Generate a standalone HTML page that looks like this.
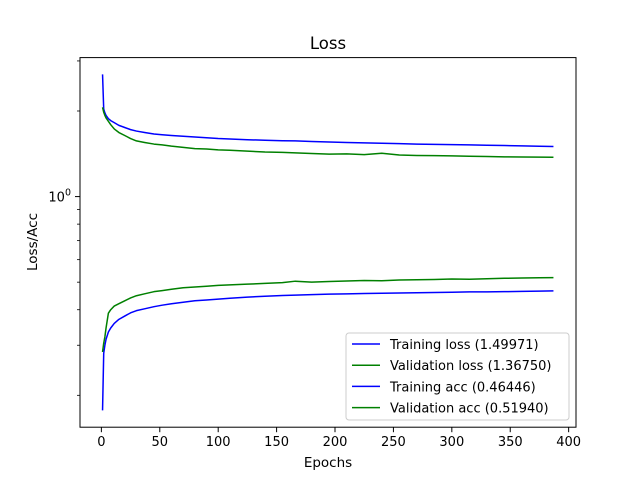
<!DOCTYPE html>
<html><head><meta charset="utf-8"><style>
body{margin:0;background:#fff}
svg{display:block;font-family:"DejaVu Sans","Liberation Sans",sans-serif}
</style></head><body>
<svg id="chart" width="640" height="480" viewBox="0 0 640 480">
<rect width="640" height="480" fill="#fff"/>
<text x="328" y="49" font-size="16.5" text-anchor="middle">Loss</text>
<g id="plot"></g>
<rect x="80" y="57.6" width="496" height="369.6" fill="none" stroke="#000" stroke-width="1"/>
<text x="328" y="467" font-size="13.5" text-anchor="middle">Epochs</text>
<text transform="translate(37,242) rotate(-90)" font-size="13.5" text-anchor="middle">Loss/Acc</text>
<g id="legend">
<rect x="346" y="333" width="223" height="87" rx="3" fill="#fff" fill-opacity="0.8" stroke="#ccc"/>
</g>
</svg>
<script>
const epochs=[1,2,3,4,6,8,11,15,20,25,30,37,45,52,60,70,80,90,100,110,125,140,155,166,180,195,210,225,240,255,270,285,300,315,330,345,360,375,387];
const trainLoss=[2.69,2.03,1.97,1.93,1.88,1.85,1.82,1.78,1.75,1.72,1.70,1.68,1.66,1.65,1.64,1.63,1.62,1.61,1.60,1.595,1.585,1.578,1.572,1.57,1.562,1.556,1.55,1.545,1.54,1.535,1.53,1.527,1.523,1.52,1.515,1.512,1.508,1.504,1.50];
const valLoss=[2.06,1.98,1.93,1.89,1.84,1.79,1.73,1.68,1.64,1.60,1.57,1.55,1.53,1.52,1.505,1.49,1.475,1.47,1.46,1.455,1.445,1.435,1.43,1.425,1.418,1.41,1.413,1.405,1.42,1.40,1.395,1.393,1.39,1.387,1.383,1.38,1.378,1.376,1.375];
const trainAcc=[0.177,0.281,0.300,0.315,0.334,0.345,0.358,0.370,0.380,0.390,0.397,0.403,0.410,0.415,0.420,0.425,0.430,0.433,0.436,0.439,0.443,0.446,0.449,0.450,0.452,0.454,0.455,0.456,0.457,0.458,0.459,0.460,0.461,0.462,0.462,0.463,0.464,0.465,0.466];
const valAcc=[0.284,0.305,0.321,0.345,0.389,0.400,0.412,0.420,0.430,0.440,0.448,0.455,0.463,0.467,0.472,0.478,0.481,0.484,0.487,0.489,0.492,0.495,0.498,0.504,0.500,0.503,0.505,0.507,0.506,0.509,0.510,0.511,0.513,0.512,0.514,0.516,0.517,0.518,0.519];
const xTicks=[0,50,100,150,200,250,300,350,400];
const yMinorTicks=[0.2,0.3,0.4,0.5,0.6,0.7,0.8,0.9,2,3];
const legendLabels=["Training loss (1.49971)","Validation loss (1.36750)","Training acc (0.46446)","Validation acc (0.51940)"];
const legendColors=["#0000ff","#008000","#0000ff","#008000"];

const NS="http://www.w3.org/2000/svg";
const svg=document.getElementById('chart');
const plot=document.getElementById('plot');
const legend=document.getElementById('legend');
const L=80,R=576,T=57.6,B=427.2;
const allX=epochs, xmin0=Math.min(...allX), xmax0=Math.max(...allX);
const xm=(xmax0-xmin0)*0.05, xlo=xmin0-xm, xhi=xmax0+xm;
const allY=[...trainLoss,...valLoss,...trainAcc,...valAcc].map(Math.log10);
const ymin0=Math.min(...allY), ymax0=Math.max(...allY);
const ym=(ymax0-ymin0)*0.05, ylo=ymin0-ym, yhi=ymax0+ym;
function xs(v){return L+(v-xlo)/(xhi-xlo)*(R-L);}
function ys(v){return B-(Math.log10(v)-ylo)/(yhi-ylo)*(B-T);}
function mk(tag,attrs,parent){const e=document.createElementNS(NS,tag);for(const k in attrs)e.setAttribute(k,attrs[k]);(parent||svg).appendChild(e);return e;}

xTicks.forEach(t=>{
  const x=xs(t);
  const tk=mk('line',{x1:x,x2:x,y1:B,y2:B+5,stroke:'#000'});
  
  
  const lb=mk('text',{x:x,y:B+19,'font-size':13,'text-anchor':'middle'});
  lb.textContent=t;
  
  
});
yMinorTicks.forEach(t=>{
  const y=ys(t); if(y<T||y>B)return;
  const tk=mk('line',{x1:L-3,x2:L,y1:y,y2:y,stroke:'#000','stroke-width':0.8});
  
  
});
{
  const y=ys(1);
  const tk=mk('line',{x1:L-5,x2:L,y1:y,y2:y,stroke:'#000'});
  
  
  const lb=mk('text',{x:L-9,y:y+5,'font-size':13,'text-anchor':'end'});
  lb.innerHTML='10<tspan dy="-6" font-size="9.5">0</tspan>';
  
  
}
const series=[trainLoss,valLoss,trainAcc,valAcc];
const names=['training-loss-line','validation-loss-line','training-acc-line','validation-acc-line'];
series.forEach((s,i)=>{
  const d=s.map((v,j)=>(j?'L':'M')+xs(epochs[j]).toFixed(2)+','+ys(v).toFixed(2)).join('');
  const p=mk('path',{d:d,fill:'none',stroke:legendColors[i],'stroke-width':1.5,'stroke-linejoin':'round'},plot);
  
  
});
legendLabels.forEach((t,i)=>{
  const y=344+i*21.2;
  const ln=mk('line',{x1:352,x2:380,y1:y,y2:y,stroke:legendColors[i],'stroke-width':1.5},legend);
  
  
  const tx=mk('text',{x:390,y:y+5,'font-size':13},legend);
  tx.textContent=t;
  
  
});
</script>
</body></html>
